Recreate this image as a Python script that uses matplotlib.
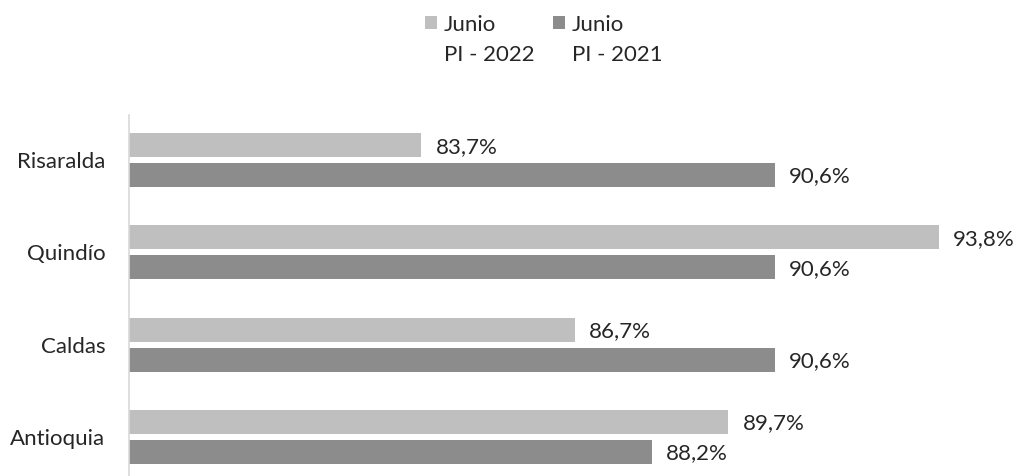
import matplotlib
matplotlib.use("Agg")
import matplotlib.pyplot as plt
from matplotlib.patches import Rectangle
import numpy as np

plt.rcParams['font.family'] = ['Lato', 'DejaVu Sans']

categories = ["Antioquia", "Caldas", "Quindío", "Risaralda"]
series_labels = ["Junio\nPI - 2022", "Junio\nPI - 2021"]
values_2022 = [89.7, 86.7, 93.8, 83.7]
values_2021 = [88.2, 90.6, 90.6, 90.6]

c_light = "#bfbfbf"
c_dark = "#8c8c8c"
txt = "#262626"
fs = 16

fig = plt.figure(figsize=(10.2, 4.76), dpi=100)
ax = fig.add_axes([129/1020, 0, 871/1020, 361/476])

y = np.arange(len(categories))
off = 0.1625
h = 0.26
xmin = 78
ax.barh(y + off, np.array(values_2022) - xmin, left=xmin, height=h, color=c_light)
ax.barh(y - off, np.array(values_2021) - xmin, left=xmin, height=h, color=c_dark)

for yi, v in zip(y + off, values_2022):
    ax.text(v + 0.28, yi - 0.015, f"{v:.1f}%".replace(".", ","), va="center", ha="left", fontsize=fs, color=txt)
for yi, v in zip(y - off, values_2021):
    ax.text(v + 0.28, yi - 0.015, f"{v:.1f}%".replace(".", ","), va="center", ha="left", fontsize=fs, color=txt)

ax.set_xlim(78, 95)
ax.set_ylim(-0.4225, 3.49)
ax.set_yticks(y)
ax.set_yticklabels(categories, fontsize=fs, color=txt)
ax.tick_params(axis="y", length=0, pad=17)
ax.set_xticks([])
for s in ["top", "right", "bottom"]:
    ax.spines[s].set_visible(False)
ax.spines["left"].set_color("#d9d9d9")
ax.spines["left"].set_linewidth(1.2)

# legend (manual layout)
W, H = 1020, 476
for x0, col, lab in [(425, c_light, series_labels[0]), (553, c_dark, series_labels[1])]:
    fig.add_artist(Rectangle((x0 / W, 1 - 29 / H), 12 / W, 13 / H, transform=fig.transFigure,
                             facecolor=col, edgecolor="none"))
    fig.text((x0 + 19) / W, 1 - 15 / H, lab, fontsize=fs, color=txt, va="top", ha="left",
             linespacing=1.6)

fig.savefig("out.png", dpi=100)
